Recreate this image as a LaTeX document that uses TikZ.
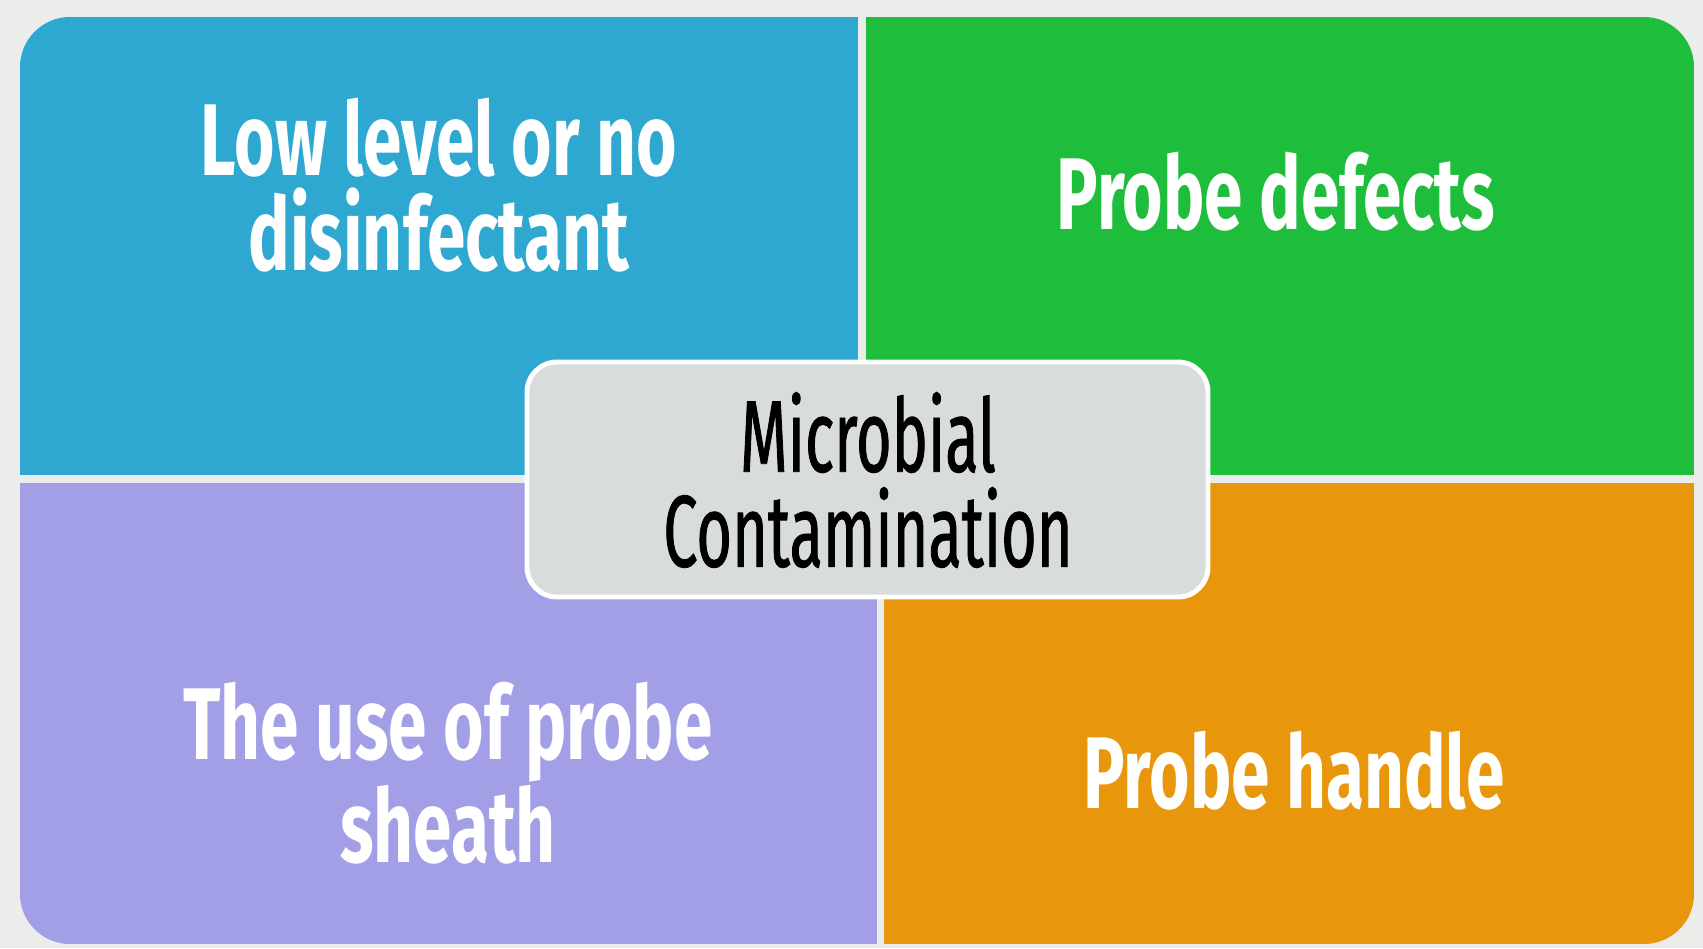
\documentclass[tikz,border=0pt]{standalone}
\usepackage{fontspec}
\newfontfamily\panelfont[FakeStretch=0.68]{Fira Sans}
\newfontfamily\centerfont[FakeStretch=0.6,FakeBold=0.8]{Fira Sans}
\definecolor{slidebg}{HTML}{ECECEA}
\definecolor{qblue}{HTML}{2EA8D0}
\definecolor{qgreen}{HTML}{1EBD3C}
\definecolor{qpurple}{HTML}{A29FE6}
\definecolor{qorange}{HTML}{E8970C}
\definecolor{centergray}{HTML}{D9DCDC}

\begin{document}
\begin{tikzpicture}[x=0.01cm,y=-0.01cm,
    paneltext/.style={text=white,align=center,
        font=\panelfont\bfseries\fontsize{29}{27}\selectfont},
    centertext/.style={text=black,align=center,
        font=\centerfont\fontsize{29}{27}\selectfont}]

        % \draw [help lines] (0,0) grid (1703,948);
        \useasboundingbox (0,0) rectangle (1703,948);
        \fill[slidebg] (0,0) rectangle (1703,948);

        % outer rounded outline, then the four panels
        \begin{scope}
        \clip[rounded corners=0.5cm] (20,17) rectangle (1694,944);
        \fill[qblue]   (20,17)   rectangle (858,475);
        \fill[qgreen]  (866,17)  rectangle (1694,475);
        \fill[qpurple] (20,483)  rectangle (877,944);
        \fill[qorange] (884,483) rectangle (1694,944);
        \end{scope}

        \path   (439,185) node (lowlevel) [paneltext] {Low level or no\\disinfectant}
                (1276,192) node (defects) [paneltext] {Probe defects}
                (448,773) node (sheath) [paneltext] {The use of probe\\sheath}
                (1294,771) node (handle) [paneltext] {Probe handle};

        \draw[white,line width=1.4pt,fill=centergray,rounded corners=0.3cm]
                (527,362) rectangle (1208,597);
        \path   (868,480) node (microbial) [centertext] {Microbial\\Contamination};

    \end{tikzpicture}
\end{document}
